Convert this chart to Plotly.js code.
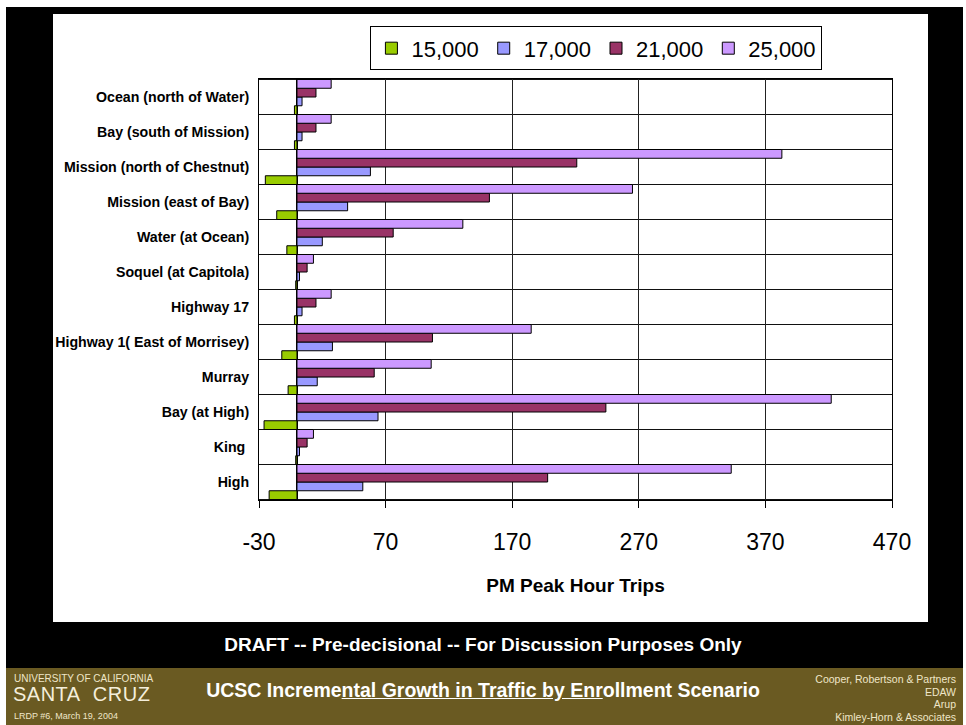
<!DOCTYPE html>
<html>
<head>
<meta charset="utf-8">
<script src="https://cdn.plot.ly/plotly-3.0.1.min.js"></script>
<style>
  html, body { margin:0; padding:0; background:#fff; }
  #wrap { position:relative; width:966px; height:725px; overflow:hidden; background:#fff; }
  #black { position:absolute; left:6px; top:7px; width:957px; height:718px; background:#000; }
  #panel { position:absolute; left:53px; top:14px; width:875px; height:608px; background:#fff; }
  #band { position:absolute; left:6px; top:668px; width:957px; height:57px; background:#6a5a22; }
  #chart { position:absolute; left:0; top:0; width:966px; height:725px; }
  .t { position:absolute; font-family:"Liberation Sans",Arial,sans-serif; white-space:nowrap; }
</style>
</head>
<body>
<div id="wrap">
  <div id="black"></div>
  <div id="panel"></div>
  <div id="band"></div>
  <div id="chart"></div>
  <div class="t" style="left:0;width:966px;top:634px;text-align:center;color:#fff;font-weight:bold;font-size:19px;">DRAFT -- Pre-decisional -- For Discussion Purposes Only</div>
  <div class="t" style="left:14px;top:673px;color:#efe6c8;font-size:10px;">UNIVERSITY OF CALIFORNIA</div>
  <div class="t" style="left:13px;top:683px;color:#f4eedb;font-size:20px;letter-spacing:0.5px;">SANTA&nbsp;&nbsp;CRUZ</div>
  <div class="t" style="left:14px;top:711px;color:#efe6c8;font-size:9px;">LRDP #6, March 19, 2004</div>
  <div class="t" style="left:0;width:966px;top:679px;text-align:center;color:#fff;font-weight:bold;font-size:19.5px;">UCSC Increme<span style="text-decoration:underline;">ntal Growth in Traffic by Enr</span>ollment Scenario</div>
  <div class="t" style="right:10px;top:673px;text-align:right;color:#efe6c8;font-size:10.5px;line-height:12.5px;">Cooper, Robertson &amp; Partners<br>EDAW<br>Arup<br>Kimley-Horn &amp; Associates</div>
</div>
<script>
// Categories, top to bottom as shown
const categories = [
  "Ocean (north of Water)",
  "Bay (south of Mission)",
  "Mission (north of Chestnut)",
  "Mission (east of Bay)",
  "Water (at Ocean)",
  "Soquel (at Capitola)",
  "Highway 17",
  "Highway 1( East of Morrisey)",
  "Murray",
  "Bay (at High)",
  "King ",
  "High"
];
const seriesNames = ["15,000", "17,000", "21,000", "25,000"];
const s15000 = [-2, -2, -25, -16, -8, -1, -2, -12, -7, -26, -1, -22];
const s17000 = [4, 4, 58, 40, 20, 2, 4, 28, 16, 64, 2, 52];
const s21000 = [15, 15, 221, 152, 76, 8, 15, 107, 61, 244, 8, 198];
const s25000 = [27, 27, 383, 265, 131, 13, 27, 185, 106, 422, 13, 343];
const seriesValues = [s15000, s17000, s21000, s25000];
const seriesColors = ["#99cc00", "#9999ff", "#993366", "#cc99ff"];
const xTickVals = [-30, 70, 170, 270, 370, 470];
const xTickLabels = ["-30", "70", "170", "270", "370", "470"];
const xMin = -30, xMax = 470;

const traces = seriesNames.map((name, i) => ({
  type: "bar",
  orientation: "h",
  name: name,
  y: categories,
  x: seriesValues[i],
  marker: { color: seriesColors[i], line: { color: "#000", width: 1 } },
  hoverinfo: "x+y+name"
}));

// separators between category rows
const shapes = [];
for (let i = 0; i <= categories.length; i++) {
  shapes.push({
    type: "line", xref: "paper", x0: 0, x1: 1, yref: "y",
    y0: i - 0.5, y1: i - 0.5,
    line: { color: "#111", width: 1 }, layer: "below"
  });
}

const sans = "Liberation Sans, Arial, sans-serif";
const layout = {
  width: 966, height: 725,
  margin: { l: 259, r: 74, t: 79, b: 225, pad: 0 },
  paper_bgcolor: "rgba(0,0,0,0)",
  plot_bgcolor: "#fff",
  barmode: "group",
  bargap: 0,
  bargroupgap: 0,
  showlegend: true,
  legend: {
    orientation: "h",
    x: 0.176, xanchor: "left",
    y: 1.125, yanchor: "top",
    bordercolor: "#000", borderwidth: 1,
    bgcolor: "#fff",
    font: { family: sans, size: 22, color: "#000" },
    traceorder: "normal",
    itemwidth: 30,
    tracegroupgap: 0
  },
  xaxis: {
    range: [xMin, xMax],
    tickmode: "array", tickvals: xTickVals, ticktext: xTickLabels,
    showgrid: true, gridcolor: "#222", gridwidth: 1,
    zeroline: true, zerolinecolor: "#000", zerolinewidth: 1.5,
    showline: true, linecolor: "#000", linewidth: 1, mirror: true,
    ticks: "outside", ticklen: 7, tickcolor: "#000",
    ticklabelstandoff: 14,
    tickfont: { family: sans, size: 23, color: "#000" },
    title: { text: "<b>PM Peak Hour Trips</b>", font: { family: sans, size: 19, color: "#000" }, standoff: 25 },
    fixedrange: true
  },
  yaxis: {
    type: "category",
    categoryorder: "array",
    categoryarray: categories.slice().reverse(),
    showgrid: false,
    zeroline: false,
    showline: true, linecolor: "#000", linewidth: 1, mirror: true,
    ticks: "", ticklabelstandoff: 6,
    tickfont: { family: sans, size: 14.2, color: "#000", weight: "bold" },
    fixedrange: true
  },
  shapes: shapes
};

Plotly.newPlot("chart", traces, layout, { displayModeBar: false, staticPlot: true });
</script>
</body>
</html>
